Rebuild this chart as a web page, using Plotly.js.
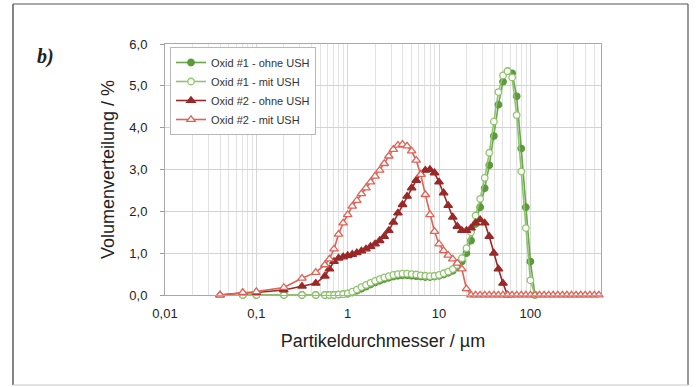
<!DOCTYPE html>
<html><head><meta charset="utf-8">
<script src="https://cdn.plot.ly/plotly-3.0.1.min.js"></script>
<style>html,body{margin:0;padding:0;background:#fff}#chart{width:696px;height:387px}</style>
</head><body><div id="chart"></div>
<script>
// particle sizes (µm)
const sizes = [0.040, 0.071, 0.100, 0.200, 0.316, 0.447, 0.562, 0.631, 0.708, 0.794, 0.891, 1.000, 1.122, 1.259, 1.413, 1.585, 1.778, 1.995, 2.239, 2.512, 2.818, 3.162, 3.548, 3.981, 4.467, 5.012, 5.623, 6.310, 7.079, 7.943, 8.913, 10.00, 11.22, 12.59, 14.13, 15.85, 17.78, 19.95, 22.39, 25.12, 28.18, 31.62, 35.48, 39.81, 44.67, 50.12, 56.23, 63.10, 70.79, 79.43, 89.13, 100.0, 112.2, 125.9, 141.3, 158.5, 177.8, 199.5, 223.9, 251.2, 281.8, 316.2, 354.8, 398.1, 446.7, 501.2, 562.3, 631.0];

const oxid1Ohne = [null, 0, 0, 0, 0, 0, 0, 0, 0, 0.01, 0.02, 0.03, 0.06, 0.10, 0.15, 0.20, 0.25, 0.30, 0.34, 0.38, 0.41, 0.44, 0.46, 0.47, 0.47, 0.46, 0.45, 0.44, 0.43, 0.43, 0.44, 0.46, 0.49, 0.53, 0.58, 0.66, 0.80, 1.00, 1.30, 1.70, 2.10, 2.55, 3.10, 3.80, 4.55, 5.10, 5.35, 5.30, 4.75, 3.50, 2.10, 0.80, 0, null, null, null, null, null, null, null, null, null, null, null, null, null, null, null];

const oxid1Mit = [null, 0, 0, 0, 0, 0, 0, 0, 0, 0.01, 0.02, 0.04, 0.08, 0.13, 0.19, 0.24, 0.29, 0.34, 0.38, 0.42, 0.45, 0.48, 0.50, 0.51, 0.51, 0.50, 0.49, 0.47, 0.46, 0.45, 0.46, 0.48, 0.52, 0.56, 0.62, 0.72, 0.88, 1.12, 1.50, 1.90, 2.30, 2.80, 3.40, 4.15, 4.85, 5.25, 5.35, 5.20, 4.30, 2.95, 1.60, 0.35, 0, null, null, null, null, null, null, null, null, null, null, null, null, null, null, null];

const oxid2Ohne = [0, 0.05, 0.06, 0.12, 0.21, 0.28, 0.45, 0.62, 0.80, 0.88, 0.91, 0.94, 0.97, 1.01, 1.05, 1.10, 1.16, 1.22, 1.30, 1.40, 1.54, 1.74, 1.96, 2.16, 2.36, 2.56, 2.74, 2.88, 2.98, 3.00, 2.92, 2.70, 2.44, 2.14, 1.86, 1.64, 1.54, 1.54, 1.60, 1.72, 1.80, 1.72, 1.40, 1.00, 0.62, 0.28, 0, null, null, null, null, null, null, null, null, null, null, null, null, null, null, null, null, null, null, null, null, null];

const oxid2Mit = [0, 0.06, 0.08, 0.18, 0.40, 0.54, 0.72, 0.86, 1.10, 1.45, 1.72, 1.92, 2.12, 2.26, 2.42, 2.56, 2.70, 2.84, 2.98, 3.14, 3.32, 3.48, 3.58, 3.60, 3.56, 3.44, 3.22, 2.88, 2.40, 1.92, 1.52, 1.22, 1.06, 0.95, 0.86, 0.76, 0.62, 0.15, 0, 0, 0, 0, 0, 0, 0, 0, 0, 0, 0, 0, 0, 0, 0, 0, 0, 0, 0, 0, 0, 0, 0, 0, 0, 0, 0, 0, 0, 0];

const seriesNames = ['Oxid #1 - ohne USH', 'Oxid #1 - mit USH', 'Oxid #2 - ohne USH', 'Oxid #2 - mit USH'];
const xTickVals = [0.01, 0.1, 1, 10, 100];
const xTickText = ['0,01', '0,1', '1', '10', '100'];
const xMinorVals = [0.02,0.03,0.04,0.05,0.06,0.07,0.08,0.09,0.2,0.3,0.4,0.5,0.6,0.7,0.8,0.9,2,3,4,5,6,7,8,9,20,30,40,50,60,70,80,90,200,300,400,500];
const yTickVals = [0, 1, 2, 3, 4, 5, 6];
const yTickText = ['0,0', '1,0', '2,0', '3,0', '4,0', '5,0', '6,0'];

const W = 696, H = 387, ML = 165, MR = 95, MT = 44, MB = 92;
const PW = W - ML - MR, PH = H - MT - MB;
const px = v => (v - ML) / PW;
const py = v => (H - MB - v) / PH;

function tr(y, name, sym, mcol, fill, lcol, size) {
  return {
    x: sizes, y: y, name: name, type: 'scatter', mode: 'lines+markers',
    cliponaxis: false,
    line: {color: lcol, width: 1.6},
    marker: {symbol: sym, size: size, color: fill, line: {color: mcol, width: 1.3}}
  };
}

const data = [
  tr(oxid1Ohne, seriesNames[0], 'circle', '#5c9a3c', '#5c9a3c', '#6aa84f', 6.5),
  tr(oxid1Mit, seriesNames[1], 'circle', '#8fc46c', '#ffffff', '#8fc46c', 6.5),
  tr(oxid2Ohne, seriesNames[2], 'triangle-up', '#9a2828', '#9a2828', '#9a2828', 7.5),
  tr(oxid2Mit, seriesNames[3], 'triangle-up', '#de6256', '#ffffff', '#de6256', 7.5)
];

const fontAx = {family: 'Liberation Sans, Arial, sans-serif', size: 13, color: '#222'};
const layout = {
  width: W, height: H,
  margin: {l: ML, r: MR, t: MT, b: MB},
  paper_bgcolor: '#fff', plot_bgcolor: '#fff',
  showlegend: true,
  xaxis: {
    type: 'log', range: [-2, 2.773],
    tickmode: 'array', tickvals: xTickVals, ticktext: xTickText,
    ticks: '', ticklabelstandoff: 6,
    tickfont: fontAx,
    showgrid: true, gridcolor: '#d6d6d6', gridwidth: 1,
    minor: {tickmode: 'array', tickvals: xMinorVals, showgrid: true, gridcolor: '#e2e2e2', ticks: ''},
    showline: true, linecolor: '#a8a8a8', linewidth: 1, mirror: true,
    zeroline: false,
    title: {text: 'Partikeldurchmesser / µm', font: {family: 'Liberation Sans, Arial, sans-serif', size: 18, color: '#222'}, standoff: 14}
  },
  yaxis: {
    range: [0, 6],
    tickmode: 'array', tickvals: yTickVals, ticktext: yTickText,
    ticks: 'outside', ticklen: 4, tickcolor: '#999', ticklabelstandoff: 10,
    tickfont: fontAx,
    showgrid: true, gridcolor: '#dccfcf', gridwidth: 1,
    showline: true, linecolor: '#a8a8a8', linewidth: 1, mirror: true,
    zeroline: false,
    title: {text: 'Volumenverteilung / %', font: {family: 'Liberation Sans, Arial, sans-serif', size: 18, color: '#222'}, standoff: 10}
  },
  legend: {
    x: px(170), y: py(47), xanchor: 'left', yanchor: 'top',
    bgcolor: '#ffffff', bordercolor: '#b8b8b8', borderwidth: 1,
    font: {family: 'Liberation Sans, Arial, sans-serif', size: 11, color: '#333'},
    itemwidth: 30, tracegroupgap: 0
  },
  annotations: [{
    text: 'b)', xref: 'paper', yref: 'paper', x: px(45), y: py(57),
    xanchor: 'center', yanchor: 'middle', showarrow: false,
    font: {family: 'Liberation Serif, DejaVu Serif, serif', size: 20, color: '#222', style: 'italic', weight: 'bold'}
  }],
  shapes: [
    {type: 'line', xref: 'paper', yref: 'paper', x0: px(13), x1: px(13), y0: py(4), y1: py(385), line: {color: '#444', width: 1.3}},
    {type: 'line', xref: 'paper', yref: 'paper', x0: px(13), x1: px(688), y0: py(4), y1: py(4), line: {color: '#555', width: 1.2}},
    {type: 'line', xref: 'paper', yref: 'paper', x0: px(688), x1: px(688), y0: py(4), y1: py(385), line: {color: '#555', width: 1.2}},
    {type: 'line', xref: 'paper', yref: 'paper', x0: px(13), x1: px(688), y0: py(385), y1: py(385), line: {color: '#c8c8c8', width: 1.2}}
  ]
};

Plotly.newPlot('chart', data, layout, {staticPlot: true, displayModeBar: false});
</script>
</body></html>
